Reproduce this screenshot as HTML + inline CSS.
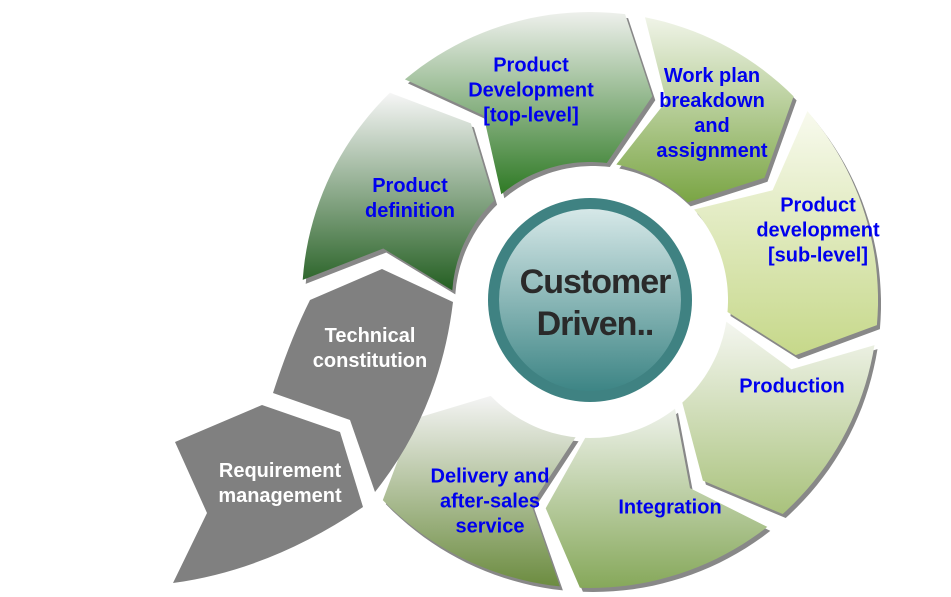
<!DOCTYPE html>
<html><head><meta charset="utf-8"><style>
body{margin:0;background:#fff;width:951px;height:597px;overflow:hidden;position:relative;font-family:"Liberation Sans",Arial,sans-serif}
.t{position:absolute;font-weight:bold;font-size:20px;line-height:25px;text-align:center;color:#0000ee;transform:translate(-50%,-50%);white-space:nowrap}
.w{color:#fff}
</style></head><body>
<svg id="s" width="951" height="597" style="position:absolute;left:0;top:0">
<defs>
<linearGradient id="g0" x1="0" y1="0" x2="0" y2="1"><stop offset="0" stop-color="#f6f6f6"/><stop offset="1" stop-color="#245f22"/></linearGradient>
<linearGradient id="g1" x1="0" y1="0" x2="0" y2="1"><stop offset="0" stop-color="#eef0ec"/><stop offset="1" stop-color="#2f7a25"/></linearGradient>
<linearGradient id="g2" x1="0" y1="0" x2="0" y2="1"><stop offset="0" stop-color="#f0f4e8"/><stop offset="1" stop-color="#7aa544"/></linearGradient>
<linearGradient id="g3" x1="0" y1="0" x2="0" y2="1"><stop offset="0" stop-color="#f8faee"/><stop offset="1" stop-color="#c6d88a"/></linearGradient>
<linearGradient id="g4" x1="0" y1="0" x2="0" y2="1"><stop offset="0" stop-color="#f4f6f0"/><stop offset="1" stop-color="#a9c27c"/></linearGradient>
<linearGradient id="g5" x1="0" y1="0" x2="0" y2="1"><stop offset="0" stop-color="#eef2ea"/><stop offset="1" stop-color="#86a85a"/></linearGradient>
<linearGradient id="g6" x1="0" y1="0" x2="0" y2="1"><stop offset="0" stop-color="#f4f4f4"/><stop offset="1" stop-color="#6c8c40"/></linearGradient>
<linearGradient id="gc" x1="0" y1="0" x2="0" y2="1"><stop offset="0" stop-color="#d6e8e8"/><stop offset="1" stop-color="#3d8585"/></linearGradient>
</defs>
<g id="segs"></g>
<path d="M310,300 L382,269 L453,302 Q440,410 375,492 L350,420 L273,393 Q290,340 310,300Z" fill="#808080"/>
<path d="M175,442 L262,405 L340,432 L363,507 Q270,570 173,583 L207,513 Z" fill="#808080"/>
<circle cx="590" cy="300" r="102" fill="#3f8282"/>
<circle cx="590" cy="300" r="91" fill="url(#gc)"/>
</svg>
<script>
var cx=590,cy=300,R=288,r=138,d=10,g=document.getElementById('segs');
var segs=[[184,226,'g0'],[230,277,'g1'],[281,315,'g2'],[319,365,'g3'],[369,408,'g4'],[412,452,'g5'],[456,496,'g6']];
function P(a,rad){a=a*Math.PI/180;return (cx+rad*Math.cos(a)).toFixed(1)+','+(cy+rad*Math.sin(a)).toFixed(1);}
function path(a1,a2){var m=(R+r)/2,s='M'+P(a1,R);for(var a=a1;a<=a2;a+=2)s+=' L'+P(a,R);s+=' L'+P(a2,R)+' L'+P(a2+d,m)+' L'+P(a2,r);for(var a=a2;a>=a1;a-=2)s+=' L'+P(a,r);s+=' L'+P(a1,r)+' L'+P(a1+d,m)+'Z';return s;}
var h='';segs.forEach(function(q){var p=path(q[0],q[1]);h+='<path d="'+p+'" fill="#888" transform="translate(3,4)"/><path d="'+p+'" fill="url(#'+q[2]+')"/>';});
g.innerHTML=h;
</script>
<div class="t" style="left:410px;top:199px">Product<br>definition</div>
<div class="t" style="left:531px;top:91px">Product<br>Development<br>[top-level]</div>
<div class="t" style="left:712px;top:114px">Work plan<br>breakdown<br>and<br>assignment</div>
<div class="t" style="left:818px;top:231px">Product<br>development<br>[sub-level]</div>
<div class="t" style="left:792px;top:387px">Production</div>
<div class="t" style="left:670px;top:508px">Integration</div>
<div class="t" style="left:490px;top:502px">Delivery and<br>after-sales<br>service</div>
<div class="t w" style="left:370px;top:349px">Technical<br>constitution</div>
<div class="t w" style="left:280px;top:484px">Requirement<br>management</div>
<div class="t" style="left:595px;top:303px;color:#2a2a2a;font-size:34px;line-height:42px;letter-spacing:-1px">Customer<br>Driven..</div>
</body></html>
